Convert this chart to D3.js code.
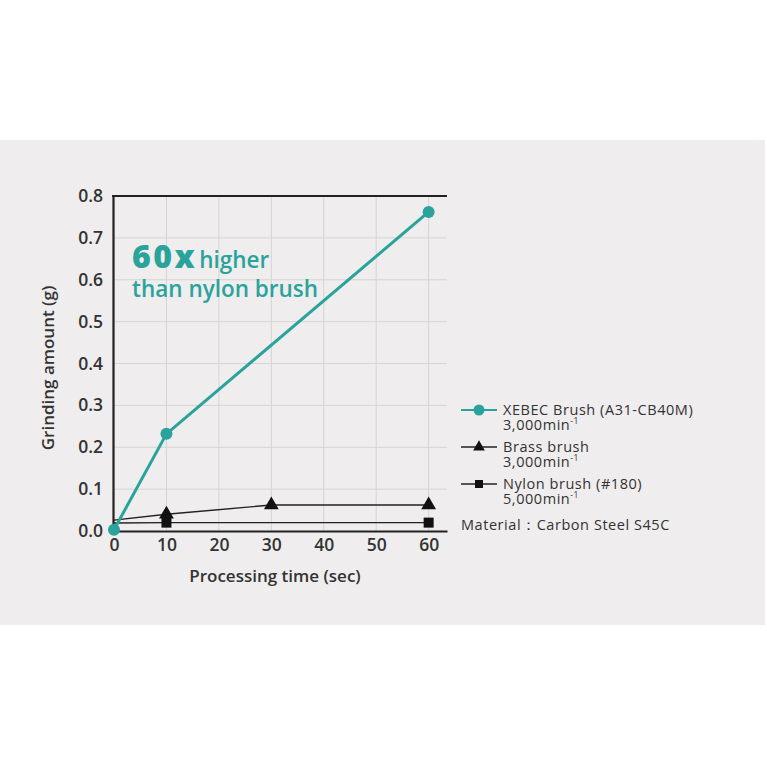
<!DOCTYPE html>
<html><head><meta charset="utf-8">
<script src="https://cdn.jsdelivr.net/npm/d3@7"></script>
<style>body{margin:0;background:#fff}svg{display:block}</style>
</head><body><svg id="c" width="767" height="767"></svg>
<script>
const xebecTime = [0, 10, 60];
const xebecValues = [0.003, 0.232, 0.762];
const brassTime = [0, 10, 30, 60];
const brassValues = [0.026, 0.04, 0.062, 0.062];
const nylonTime = [0, 10, 60];
const nylonValues = [0.019, 0.02, 0.02];
const xTicks = [0, 10, 20, 30, 40, 50, 60];
const yTicks = [0, 0.1, 0.2, 0.3, 0.4, 0.5, 0.6, 0.7, 0.8];
const legendNames = ["XEBEC Brush (A31-CB40M)", "Brass brush", "Nylon brush (#180)"];
const legendSpeeds = ["3,000", "3,000", "5,000"];

const teal = "#2aa39c", dark = "#222";
const font = "'Open Sans', sans-serif";
const svg = d3.select("#c");
svg.append("rect").attr("x",0).attr("y",140).attr("width",765).attr("height",485).attr("fill","#efeded");

const x = d3.scaleLinear().domain([0, 63.5]).range([114, 447]);
const y = d3.scaleLinear().domain([0, 0.8]).range([531, 196]);

// grid
svg.append("g").selectAll("line").data(xTicks.slice(1)).join("line")
  .attr("x1",d=>x(d)).attr("x2",d=>x(d)).attr("y1",y(0.8)).attr("y2",y(0))
  .attr("stroke","#d6d4d4").attr("stroke-width",1);
svg.append("g").selectAll("line").data(yTicks.slice(1,-1)).join("line")
  .attr("x1",x(0)).attr("x2",x(63.5)).attr("y1",d=>y(d)).attr("y2",d=>y(d))
  .attr("stroke","#d6d4d4").attr("stroke-width",1);

// axes
const xa = svg.append("g").attr("transform",`translate(0,${y(0)})`)
  .call(d3.axisBottom(x).tickValues(xTicks).tickSize(0).tickPadding(8).tickFormat(d3.format("d")));
const ya = svg.append("g").attr("transform",`translate(${x(0)-1},0)`)
  .call(d3.axisLeft(y).tickValues(yTicks).tickSize(0).tickPadding(10).tickFormat(d3.format(".1f")));
[xa, ya].forEach(a=>{
  a.select(".domain").attr("stroke",dark).attr("stroke-width",2.2);
  a.selectAll("text").attr("font-family",font).attr("font-size",17.5).attr("font-weight",600).attr("fill","#333");
});
svg.append("line").attr("x1",x(0)-2).attr("x2",x(63.5)).attr("y1",y(0.8)).attr("y2",y(0.8))
  .attr("stroke",dark).attr("stroke-width",2.2);

svg.append("text").attr("x",275).attr("y",582).attr("text-anchor","middle")
  .attr("font-family",font).attr("font-size",17).attr("font-weight",600).attr("fill","#333")
  .text("Processing time (sec)");
svg.append("text").attr("transform","translate(54,368) rotate(-90)").attr("text-anchor","middle")
  .attr("font-family",font).attr("font-size",17).attr("font-weight",600).attr("fill","#333")
  .text("Grinding amount (g)");

const line = d3.line().x(d=>x(d[0])).y(d=>y(d[1]));
const nylon = nylonTime.map((t,i)=>[t,nylonValues[i]]);
const brass = brassTime.map((t,i)=>[t,brassValues[i]]);
const xebec = xebecTime.map((t,i)=>[t,xebecValues[i]]);

svg.append("path").datum(nylon).attr("d",line).attr("fill","none").attr("stroke",dark).attr("stroke-width",1.4);
svg.append("g").selectAll("rect").data(nylon.slice(1)).join("rect")
  .attr("x",d=>x(d[0])-5).attr("y",d=>y(d[1])-5).attr("width",10).attr("height",10).attr("fill","#111");
svg.append("path").datum(brass).attr("d",line).attr("fill","none").attr("stroke",dark).attr("stroke-width",1.4);
const tri = d3.symbol().type(d3.symbolTriangle).size(95);
svg.append("g").selectAll("path").data(brass.slice(1)).join("path")
  .attr("d",tri).attr("transform",d=>`translate(${x(d[0])},${y(d[1])})`).attr("fill","#111");
svg.append("path").datum(xebec).attr("d",line).attr("fill","none").attr("stroke",teal).attr("stroke-width",3);
svg.append("g").selectAll("circle").data(xebec).join("circle")
  .attr("cx",d=>x(d[0])).attr("cy",d=>y(d[1])).attr("r",6).attr("fill",teal);

// annotation
const ann = svg.append("text").attr("x",132).attr("y",268).attr("font-family",font).attr("fill",teal);
ann.append("tspan").attr("font-size",32).attr("font-weight",800).attr("letter-spacing",2.5).text("60x");
ann.append("tspan").attr("font-size",22.5).attr("font-weight",600).attr("dx",2).text("higher");
svg.append("text").attr("x",132).attr("y",297).attr("font-family",font).attr("fill",teal)
  .attr("font-size",22.5).attr("font-weight",600).text("than nylon brush");

// legend
const ly = [410, 447, 484];
const lg = svg.append("g").attr("font-family",font).attr("fill","#333").attr("font-size",14.5).attr("letter-spacing",0.55);
legendNames.forEach((n,i)=>{
  const col = i===0?teal:dark;
  lg.append("line").attr("x1",461).attr("x2",497).attr("y1",ly[i]).attr("y2",ly[i])
    .attr("stroke",col).attr("stroke-width",i===0?2:1.4);
  if(i===0) lg.append("circle").attr("cx",479).attr("cy",ly[i]).attr("r",5.5).attr("fill",teal);
  else if(i===1) lg.append("path").attr("d",d3.symbol().type(d3.symbolTriangle).size(60)).attr("transform",`translate(479,${ly[i]})`).attr("fill","#111");
  else lg.append("rect").attr("x",475).attr("y",ly[i]-4).attr("width",8).attr("height",8).attr("fill","#111");
  const t = lg.append("text").attr("x",503).attr("y",ly[i]+5);
  t.append("tspan").text(n);
  t.append("tspan").attr("x",503).attr("dy",15).text(legendSpeeds[i]+"min");
  t.append("tspan").attr("font-size",8.5).attr("dy",-6).text("-1");
});
lg.append("text").attr("x",461).attr("y",530).text("Material：Carbon Steel S45C");
</script></body></html>
